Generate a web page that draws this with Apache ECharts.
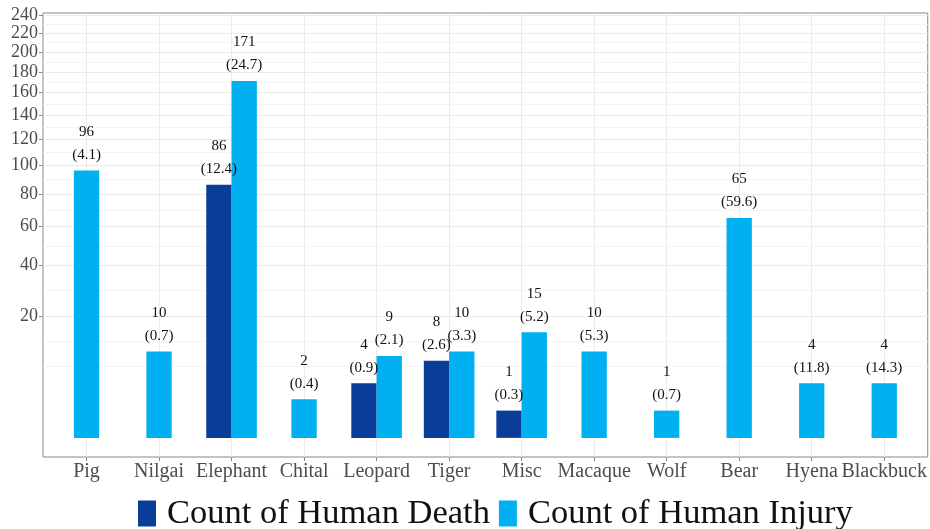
<!DOCTYPE html>
<html>
<head>
<meta charset="utf-8">
<script src="https://cdn.jsdelivr.net/npm/echarts@6/dist/echarts.min.js"></script>
<style>
  html, body { margin: 0; padding: 0; background: #fff; }
  #chart { width: 930px; height: 529px; }
</style>
</head>
<body>
<div id="chart"></div>
<script>
const categories = ['Pig', 'Nilgai', 'Elephant', 'Chital', 'Leopard', 'Tiger', 'Misc', 'Macaque', 'Wolf', 'Bear', 'Hyena', 'Blackbuck'];
const deaths = [null, null, 86, null, 4, 8, 1, null, null, null, null, null];
const deathPct = [null, null, 12.4, null, 0.9, 2.6, 0.3, null, null, null, null, null];
const injuries = [96, 10, 171, 2, 9, 10, 15, 10, 1, 65, 4, 4];
const injuryPct = [4.1, 0.7, 24.7, 0.4, 2.1, 3.3, 5.2, 5.3, 0.7, 59.6, 11.8, 14.3];
const yTicks = [20, 40, 60, 80, 100, 120, 140, 160, 180, 200, 220, 240];

const serif = '"Liberation Serif", "DejaVu Serif", serif';
const DEATH = '#0a3d97';
const INJURY = '#00b0f0';

// y is drawn on a square-root scale: plot sqrt(value), label ticks with value
const sq = Math.sqrt;
const item = (i, v, p) => ({ value: [i, sq(v)], raw: v, pct: p });

const deathData = [], pairedData = [], singleData = [];
categories.forEach((c, i) => {
    if (deaths[i] != null) {
        deathData.push(item(i, deaths[i], deathPct[i]));
        pairedData.push(item(i, injuries[i], injuryPct[i]));
    } else {
        singleData.push(item(i, injuries[i], injuryPct[i]));
    }
});

const majorY = yTicks.map(sq);
// minor grid like ggplot: midpoints in transformed space, plus one step below the first break
const step = majorY[1] - majorY[0];
const minorY = [majorY[0] - step, majorY[0] - step / 2];
for (let k = 0; k < majorY.length - 1; k++) minorY.push((majorY[k] + majorY[k + 1]) / 2);

const catIdx = categories.map((c, i) => i);

const barLabel = {
    show: true,
    position: 'top',
    distance: 4,
    fontFamily: serif,
    fontSize: 15,
    lineHeight: 23,
    color: '#111',
    formatter: p => p.data.raw + '\n(' + p.data.pct + ')'
};

const chart = echarts.init(document.getElementById('chart'));
chart.setOption({
    animation: false,
    grid: { left: 43, width: 888, top: 13, bottom: 72, show: true, borderColor: '#888', borderWidth: 1, containLabel: false },
    legend: {
        data: ['Count of Human Death', 'Count of Human Injury'],
        left: 133,
        top: 491,
        icon: 'rect',
        itemWidth: 18,
        itemHeight: 26,
        itemGap: 9,
        textStyle: { fontFamily: serif, fontSize: 34.5, color: '#111', padding: [0, 0, 0, 6] }
    },
    xAxis: [{
        type: 'value',
        min: -0.6,
        max: 11.6,
        axisLine: { show: false, onZero: false },
        axisTick: { show: true, customValues: catIdx, length: 4, lineStyle: { color: '#888' } },
        axisLabel: {
            customValues: catIdx,
            formatter: v => categories[v],
            fontFamily: serif,
            fontSize: 20,
            color: '#4d4d4d',
            margin: 5
        },
        splitLine: { show: true, lineStyle: { color: '#ebebeb', width: 1 } }
    }, {
        type: 'value',
        min: -0.6,
        max: 11.6,
        show: false
    }],
    yAxis: [{
        type: 'value',
        min: -0.70,
        max: 15.57,
        axisLine: { show: false, onZero: false },
        axisTick: { show: true, customValues: majorY, length: 4, lineStyle: { color: '#888' } },
        axisLabel: {
            customValues: majorY,
            formatter: v => Math.round(v * v),
            fontFamily: serif,
            fontSize: 18,
            color: '#4d4d4d',
            margin: 5
        },
        splitLine: { show: true, lineStyle: { color: '#ebebeb', width: 1 } },
        z: 1
    }, {
        type: 'value',
        min: -0.70,
        max: 15.57,
        position: 'left',
        axisLine: { show: false, onZero: false },
        axisTick: { show: false, customValues: minorY },
        axisLabel: { show: false, customValues: minorY },
        splitLine: { show: true, lineStyle: { color: '#f4f4f4', width: 1 } },
        z: 0
    }],
    series: [{
        name: 'Count of Human Death',
        type: 'bar',
        xAxisIndex: 0,
        yAxisIndex: 0,
        barWidth: 25.3,
        barGap: 0,
        itemStyle: { color: DEATH },
        label: barLabel,
        data: deathData
    }, {
        name: 'Count of Human Injury',
        type: 'bar',
        xAxisIndex: 0,
        yAxisIndex: 0,
        barWidth: 25.3,
        barGap: 0,
        itemStyle: { color: INJURY },
        label: barLabel,
        data: pairedData
    }, {
        name: 'Count of Human Injury',
        type: 'bar',
        xAxisIndex: 1,
        yAxisIndex: 0,
        barWidth: 25.3,
        itemStyle: { color: INJURY },
        label: barLabel,
        data: singleData
    }]
});
</script>
</body>
</html>
